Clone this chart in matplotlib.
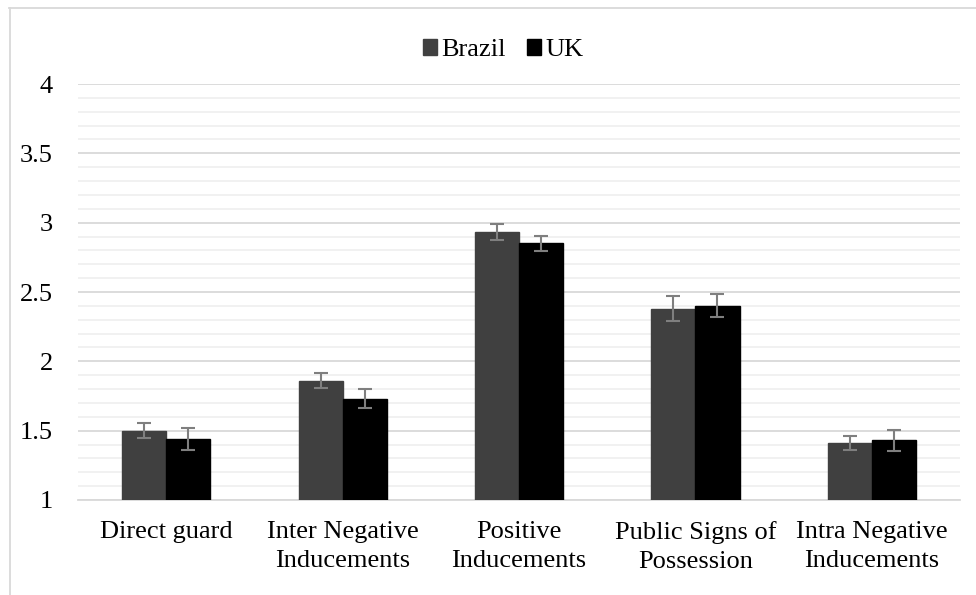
import numpy as np
import matplotlib.pyplot as plt
from matplotlib.lines import Line2D
from matplotlib.ticker import MultipleLocator

categories = ['Direct guard', 'Inter Negative\nInducements', 'Positive\nInducements',
              'Public Signs of\nPossession', 'Intra Negative\nInducements']
brazil = [1.50, 1.86, 2.93, 2.38, 1.41]
uk = [1.44, 1.73, 2.85, 2.40, 1.43]
brazil_err = [0.055, 0.055, 0.058, 0.09, 0.05]
uk_err = [0.08, 0.07, 0.055, 0.082, 0.078]

plt.rcParams['font.family'] = ['Liberation Serif', 'DejaVu Serif']

fig = plt.figure(figsize=(9.76, 5.95), dpi=100)
ax = fig.add_axes([78 / 976, 1 - 500 / 595, (960 - 78) / 976, (500 - 84) / 595])

x = np.arange(len(categories))
w = 0.25
err_style = dict(ecolor='#7f7f7f', elinewidth=1.5, capsize=5, capthick=1.5)
ax.bar(x - w / 2, brazil, w, bottom=0, color='#404040', edgecolor='#404040',
       yerr=brazil_err, error_kw=err_style, label='Brazil', zorder=3)
ax.bar(x + w / 2, uk, w, bottom=0, color='#000000', edgecolor='#000000',
       yerr=uk_err, error_kw=err_style, label='UK', zorder=3)

ax.set_ylim(1, 4)
ax.set_xlim(-0.5, len(categories) - 0.5)
ax.yaxis.set_minor_locator(MultipleLocator(0.1))
ax.set_yticks([1, 1.5, 2, 2.5, 3, 3.5, 4])
ax.set_yticklabels(['1', '1.5', '2', '2.5', '3', '3.5', '4'])
ax.grid(which='major', axis='y', color='#d9d9d9', linewidth=1.3, zorder=0)
ax.grid(which='minor', axis='y', color='#f0f0f0', linewidth=1.3, zorder=0)
ax.set_axisbelow(True)

for s in ['top', 'right', 'left']:
    ax.spines[s].set_visible(False)
ax.spines['bottom'].set_color('#d9d9d9')
ax.spines['bottom'].set_linewidth(1.3)

ax.set_xticks(x)
ax.set_xticklabels(categories, fontsize=19, linespacing=1.45)
ax.tick_params(axis='x', length=0, pad=15)
ax.tick_params(axis='y', which='both', length=0, labelsize=19, pad=18)

ax.legend(loc='upper center', bbox_to_anchor=(0.482, 1.165), ncol=2, frameon=False,
          fontsize=19, handlelength=0.55, handleheight=0.55, handletextpad=0.15,
          columnspacing=0.8)

# chart area border (top and left edges visible)
fig.add_artist(Line2D([9 / 976, 1], [1 - 8 / 595, 1 - 8 / 595], color='#d9d9d9', lw=1.3))
fig.add_artist(Line2D([10 / 976, 10 / 976], [0, 1 - 8 / 595], color='#d9d9d9', lw=1.3))

fig.savefig('out.png', dpi=100)
